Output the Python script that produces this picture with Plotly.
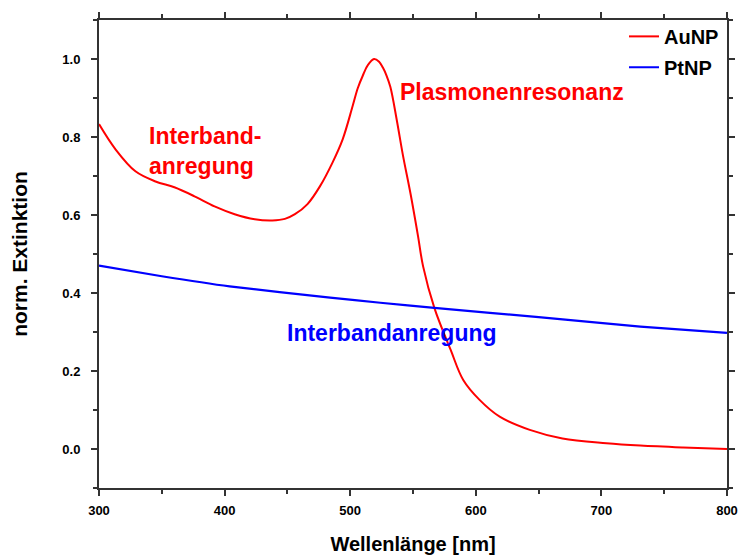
import plotly.graph_objects as go

# Normalised extinction spectra (wavelength in nm)
au_wl = [300, 313, 329, 345, 360, 376, 392, 408, 424, 438, 448, 456, 466, 476, 486,
         494, 502, 506, 510, 514, 519, 523, 526, 529, 532, 537, 542, 548, 554, 558,
         567, 580, 590, 603, 619, 643, 669, 704, 731, 765, 800]
au_ext = [0.833, 0.769, 0.712, 0.686, 0.671, 0.648, 0.622, 0.602, 0.589, 0.586, 0.590,
          0.602, 0.628, 0.674, 0.735, 0.794, 0.880, 0.925, 0.957, 0.984, 1.000, 0.993,
          0.978, 0.957, 0.928, 0.845, 0.753, 0.655, 0.546, 0.469, 0.362, 0.254, 0.177,
          0.126, 0.083, 0.049, 0.027, 0.015, 0.009, 0.004, 0.000]

pt_wl = [300, 350, 404, 484, 524, 567, 650, 731, 800]
pt_ext = [0.470, 0.443, 0.417, 0.388, 0.375, 0.362, 0.338, 0.314, 0.298]

x_ticks = [300, 400, 500, 600, 700, 800]
y_ticks = [0.0, 0.2, 0.4, 0.6, 0.8, 1.0]

FONT = "Liberation Sans, Arial, sans-serif"
AXIS_COL = "#333333"

fig = go.Figure()
fig.add_trace(go.Scatter(x=au_wl, y=au_ext, mode="lines", name="AuNP", legend="legend",
                         line=dict(color="#ff0000", width=2, shape="spline", smoothing=1.0)))
fig.add_trace(go.Scatter(x=pt_wl, y=pt_ext, mode="lines", name="PtNP", legend="legend2",
                         line=dict(color="#0000ff", width=2.2, shape="spline", smoothing=0.5)))

axis_common = dict(
    showline=True, linecolor=AXIS_COL, linewidth=2, mirror="ticks",
    ticks="outside", ticklen=6, tickwidth=2, tickcolor=AXIS_COL,
    showgrid=False, zeroline=False, automargin=False,
    tickfont=dict(family=FONT, size=13, color="black", weight="bold"),
)

fig.update_xaxes(
    range=[300, 800], tickvals=x_ticks, ticktext=[str(v) for v in x_ticks],
    minor=dict(dtick=50, ticks="outside", ticklen=4, tickwidth=1.5, tickcolor=AXIS_COL),
    ticklabelstandoff=3,
    title=dict(text="Wellenlänge [nm]", standoff=22,
               font=dict(family=FONT, size=20, color="black", weight="bold")),
    **axis_common,
)
fig.update_yaxes(
    range=[-0.1, 1.1], tickvals=y_ticks, ticktext=[f"{v:.1f}" for v in y_ticks],
    minor=dict(dtick=0.1, ticks="outside", ticklen=4, tickwidth=1.5, tickcolor=AXIS_COL),
    ticklabelstandoff=8,
    title=dict(text="norm. Extinktion", standoff=29,
               font=dict(family=FONT, size=21, color="black", weight="bold")),
    **axis_common,
)

label_font = dict(family=FONT, size=23, weight="bold")
fig.add_annotation(x=338, y=0.765, text="Interband-<br>anregung", showarrow=False,
                   xanchor="left", align="left", font=dict(color="#ff0000", **label_font))
fig.add_annotation(x=538, y=0.915, text="Plasmonenresonanz", showarrow=False,
                   xanchor="left", font=dict(color="#ff0000", **label_font))
fig.add_annotation(x=448, y=0.298, text="Interbandanregung", showarrow=False,
                   xanchor="left", font=dict(color="#0000ff", **label_font))

legend_style = dict(xanchor="left", yanchor="middle", bgcolor="rgba(0,0,0,0)", borderwidth=0,
                    font=dict(family=FONT, size=20, color="black", weight="bold"))
fig.update_layout(
    width=739, height=555,
    margin=dict(l=99, r=12, t=20, b=67),
    paper_bgcolor="white", plot_bgcolor="white",
    showlegend=True,
    legend=dict(x=0.836, y=0.965, **legend_style),
    legend2=dict(x=0.836, y=0.899, **legend_style),
)

fig.write_html("out.html")
